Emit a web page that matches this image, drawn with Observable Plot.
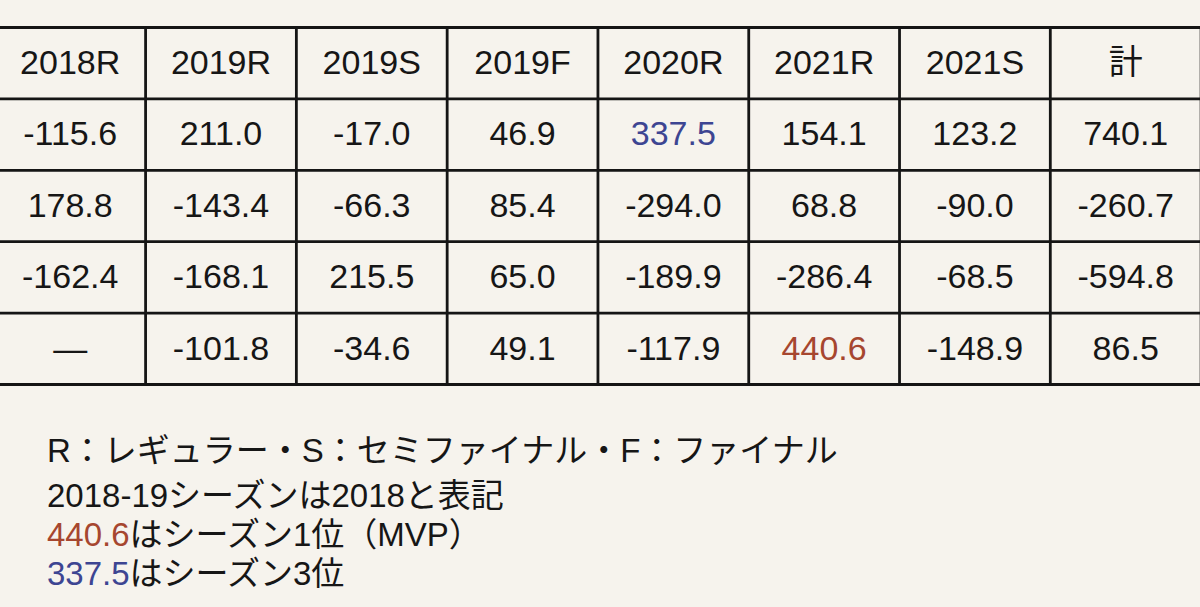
<!DOCTYPE html>
<html>
<head>
<meta charset="utf-8">
<script src="https://cdn.jsdelivr.net/npm/d3@7"></script>
<script src="https://cdn.jsdelivr.net/npm/@observablehq/plot@0.6"></script>
<style>
  html, body { margin: 0; padding: 0; background: #f6f3ed; overflow: hidden; width: 1200px; height: 607px; position: relative; }
  #chart svg { background: #f6f3ed !important; display: block; }
  #notes { position: absolute; left: 47px; top: 431px; font-family: "Liberation Sans", Arial, "Noto Sans CJK JP", sans-serif; font-size: 33px; color: #161616; line-height: 39px; }
  #notes div { white-space: nowrap; }
  .red { color: #a6462f; }
  .blue { color: #3d4592; }
</style>
</head>
<body>
<div id="chart"></div>
<div id="notes">
  <div style="margin-bottom:6px">R：レギュラー・S：セミファイナル・F：ファイナル</div>
  <div>2018-19シーズンは2018と表記</div>
  <div><span class="red">440.6</span>はシーズン1位（MVP）</div>
  <div><span class="blue">337.5</span>はシーズン3位</div>
</div>
<script>
// Column headers (season + stage)
const seasons = ["2018R", "2019R", "2019S", "2019F", "2020R", "2021R", "2021S", "計"];
// Row values (null = no record)
const row1 = [-115.6, 211.0, -17.0, 46.9, 337.5, 154.1, 123.2, 740.1];
const row2 = [178.8, -143.4, -66.3, 85.4, -294.0, 68.8, -90.0, -260.7];
const row3 = [-162.4, -168.1, 215.5, 65.0, -189.9, -286.4, -68.5, -594.8];
const row4 = [null, -101.8, -34.6, 49.1, -117.9, 440.6, -148.9, 86.5];
// Highlighted cells: [row, column, rank]
const highlights = [[1, 4, 3], [4, 5, 1]];

const rows = [row1, row2, row3, row4];
const rankColor = {1: "#a6462f", 3: "#3d4592"};

const cells = [];
seasons.forEach((s, c) => cells.push({row: 0, col: c, label: s, color: "#161616"}));
rows.forEach((r, i) => r.forEach((v, c) => {
  const h = highlights.find(([hr, hc]) => hr === i + 1 && hc === c);
  cells.push({
    row: i + 1, col: c,
    label: v == null ? "—" : v.toFixed(1),
    color: h ? rankColor[h[2]] : "#161616"
  });
}));

const nCols = seasons.length, nRows = rows.length + 1;
const colLines = d3.range(0, nCols + 1);
const rowLines = d3.range(0, nRows + 1);

const chart = Plot.plot({
  width: 1200,
  height: 400,
  margin: 0,
  style: {background: "#f6f3ed", overflow: "hidden"},
  x: {type: "linear", domain: [0, nCols], range: [-5.7, 1200.6], axis: null},
  y: {type: "linear", domain: [0, nRows], range: [27, 384], axis: null},
  marks: [
    Plot.ruleX(colLines, {x: d => d, y1: 0, y2: nRows, stroke: "#151515", strokeWidth: 2.8}),
    Plot.ruleY(rowLines, {y: d => d, x1: 0, x2: nCols, stroke: "#151515", strokeWidth: 2.8}),
    Plot.text(cells, {
      x: d => d.col + 0.5,
      y: d => d.row + 0.5,
      text: "label",
      fill: d => d.color,
      fontSize: 34,
      fontFamily: "'Liberation Sans', Arial, 'Noto Sans CJK JP', sans-serif",
      textAnchor: "middle",
      lineAnchor: "middle"
    })
  ]
});
document.getElementById("chart").appendChild(chart);
</script>
</body>
</html>
